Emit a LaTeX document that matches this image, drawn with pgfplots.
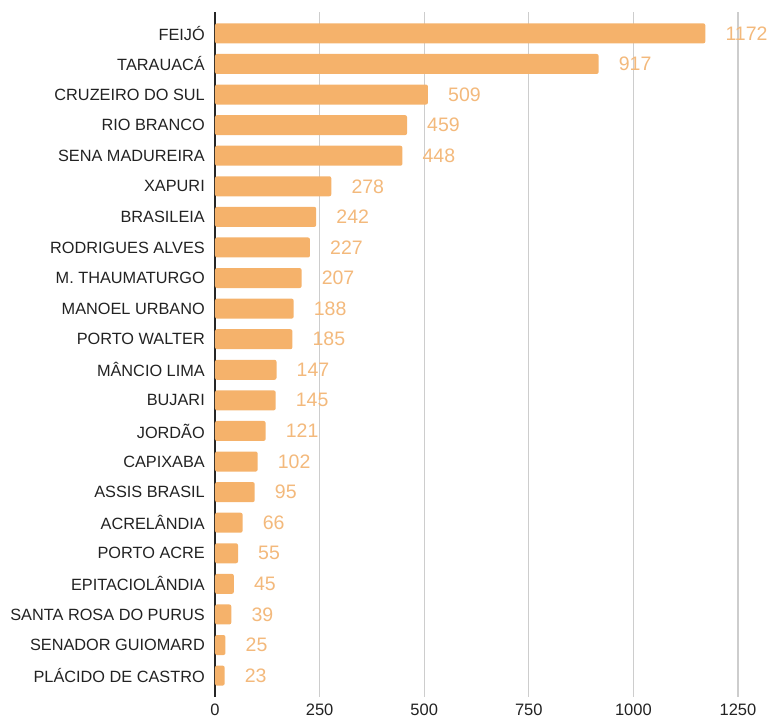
\documentclass[border=0pt]{standalone}
\usepackage{pgfplots}
\pgfplotsset{compat=1.18}
\usepackage{fontspec}
\setmainfont{Liberation Sans}
\definecolor{barc}{HTML}{F5B26B}
\definecolor{valc}{HTML}{F3B97C}
\definecolor{gridc}{HTML}{CDCDCD}
\definecolor{labc}{HTML}{222222}
\begin{document}
\begin{tikzpicture}
\useasboundingbox (-215pt,-23pt) rectangle (560pt,697pt);
\begin{axis}[
  at={(0,0)}, anchor=south west,
  scale only axis, width=543.9pt, height=685pt,
  xbar, bar width=20pt,
  xmin=0, xmax=1300, ymin=-0.7, ymax=21.7, y dir=reverse,
  xtick={0,250,500,750,1000,1250},
  ytick={0,...,21},
  yticklabels={FEIJÓ,TARAUACÁ,CRUZEIRO DO SUL,RIO BRANCO,SENA MADUREIRA,XAPURI,BRASILEIA,RODRIGUES ALVES,M. THAUMATURGO,MANOEL URBANO,PORTO WALTER,MÂNCIO LIMA,BUJARI,JORDÃO,CAPIXABA,ASSIS BRASIL,ACRELÂNDIA,PORTO ACRE,EPITACIOLÂNDIA,SANTA ROSA DO PURUS,SENADOR GUIOMARD,PLÁCIDO DE CASTRO},
  axis lines=left, axis line style={-},
  x axis line style={draw=none},
  y axis line style={draw=black!85, line width=1.3pt},
  major tick length=0pt,
  xmajorgrids, grid style={gridc, line width=1.2pt},
  /pgf/number format/assume math mode=true,
  /pgf/number format/.cd, 1000 sep={}, /pgfplots/.cd,
  xticklabel style={font=\fontsize{16.5}{17}\selectfont, text=labc, inner sep=0pt, yshift=-7pt},
  yticklabel style={font=\fontsize{16.3}{17}\selectfont, text=labc, inner sep=0pt, xshift=-10pt},
  nodes near coords,
  every node near coord/.append style={font=\fontsize{19.5}{20}\selectfont, text=valc, anchor=west, inner sep=0pt, xshift=20pt},
  clip=false,
]
\addplot[fill=barc, draw=none, rounded corners=2pt] coordinates {
(1172,0) (917,1) (509,2) (459,3) (448,4) (278,5) (242,6) (227,7) (207,8) (188,9) (185,10) (147,11) (145,12) (121,13) (102,14) (95,15) (66,16) (55,17) (45,18) (39,19) (25,20) (23,21)
};
\end{axis}
\end{tikzpicture}
\end{document}
